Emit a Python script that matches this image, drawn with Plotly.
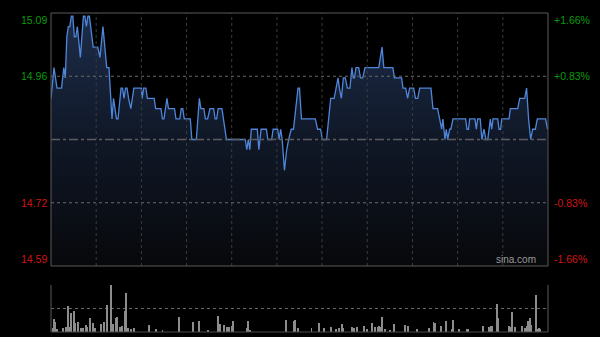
import plotly.graph_objects as go

# ---------------- data ----------------
prev_close = 14.84
pct_max = 1.66  # percent

# price line vertices (minute index from open, price)
minutes = [0, 2, 4, 7, 8.5, 9.5, 10.5, 11.5, 12.5, 13.5, 14.5, 15.5, 16.5, 17.5, 19.5, 21.5, 22.5, 23.5, 24.5, 25.5,
           28, 31, 32.5, 34.5, 37, 38.5, 40.5, 41.5, 43.5, 44.5, 46.5, 47.5, 48.5, 49.5, 50.5, 51.5, 53, 55, 60, 60.5,
           61.5, 63, 64, 68.5, 69.5, 73, 74, 75, 77, 78, 82, 83, 85.5, 86.5, 87.5, 88.5, 92.5, 93.5, 96.5, 98.5,
           99.5, 101.5, 102.5, 104, 105.5, 108, 109, 110, 111, 113.5, 114.5, 116.5, 129, 130, 131, 132, 133, 137, 138, 139.5,
           143, 144, 146.5, 147.5, 150.5, 151.5, 152.5, 153.5, 155, 156.5, 157.8, 159.5, 161, 162.3, 164, 165, 166.3, 175.5, 177, 179,
           180.2, 183, 185.7, 188, 189.3, 190.6, 191.5, 192.8, 194.1, 195.4, 196.8, 198.5, 199.8, 200.7, 201.5, 202.5, 204.3, 205.5, 207, 208.5,
           217.6, 219.8, 221, 227, 228, 232.8, 233.7, 235.5, 236.8, 238.1, 240.8, 242, 243.5, 244.8, 252.3, 253.6, 256.7, 258, 259.4, 260.2,
           261.6, 262.5, 263.4, 264.7, 265.5, 266.9, 275.3, 276.2, 277.2, 278, 281.5, 282.4, 283.3, 285, 286.1, 287.5, 288.8, 290, 291.7, 292.6,
           293.5, 296.6, 297.5, 298.5, 299.3, 304.1, 305, 309.9, 311.2, 314.5, 315.8, 317.1, 318.5, 319.8, 321.6, 322.9, 328.4, 329.7]
prices = [14.92, 14.98, 14.94, 14.94, 14.98, 14.96, 15.04, 15.06, 15.06, 15.08, 15.08, 15.04, 15.04, 15.06, 15.00, 15.08, 15.08, 15.06, 15.08, 15.08,
          15.02, 15.02, 15.00, 15.06, 14.98, 14.98, 14.88, 14.92, 14.88, 14.88, 14.94, 14.94, 14.92, 14.94, 14.94, 14.92, 14.90, 14.94, 14.94, 14.92,
          14.94, 14.94, 14.92, 14.92, 14.90, 14.90, 14.88, 14.88, 14.92, 14.90, 14.90, 14.88, 14.88, 14.90, 14.90, 14.88, 14.88, 14.84, 14.84, 14.92,
          14.90, 14.90, 14.88, 14.88, 14.90, 14.90, 14.88, 14.88, 14.90, 14.90, 14.88, 14.84, 14.84, 14.82, 14.84, 14.82, 14.86, 14.86, 14.82, 14.86,
          14.86, 14.84, 14.84, 14.86, 14.86, 14.84, 14.86, 14.84, 14.78, 14.82, 14.84, 14.86, 14.86, 14.90, 14.94, 14.94, 14.88, 14.88, 14.86, 14.86,
          14.84, 14.84, 14.92, 14.92, 14.94, 14.96, 14.94, 14.92, 14.96, 14.96, 14.94, 14.94, 14.98, 14.96, 14.96, 14.98, 14.98, 14.96, 14.96, 14.98,
          14.98, 15.02, 14.98, 14.98, 14.96, 14.96, 14.94, 14.94, 14.92, 14.94, 14.94, 14.92, 14.92, 14.94, 14.94, 14.90, 14.90, 14.88, 14.86, 14.88,
          14.84, 14.86, 14.84, 14.86, 14.86, 14.88, 14.88, 14.86, 14.86, 14.88, 14.88, 14.86, 14.88, 14.88, 14.84, 14.86, 14.84, 14.84, 14.88, 14.86,
          14.88, 14.88, 14.86, 14.86, 14.88, 14.88, 14.90, 14.90, 14.92, 14.92, 14.94, 14.88, 14.84, 14.86, 14.86, 14.88, 14.88, 14.86]

# volume bars (minute index, relative volume)
vol_minutes = [1, 2, 3, 4, 8, 10, 11, 12, 13, 15, 16, 18, 20, 21, 23, 24, 26, 28, 29, 33, 35, 37, 40, 41, 43, 44, 46, 47, 49, 50,
               51, 53, 55, 65, 70, 74, 85, 94, 98, 104, 111, 112, 115, 117, 118, 120, 121, 130, 131, 132, 156, 161, 162, 164,
               173, 178, 181, 186, 189, 191, 193, 194, 200, 201, 203, 208, 210, 213, 215, 217, 218, 219, 220, 222, 225, 228,
               235, 237, 243, 251, 254, 255, 259, 262, 266, 267, 271, 276, 277, 287, 291, 292, 293, 296, 297, 304, 305, 306,
               308, 313, 315, 316, 317, 318, 319, 322, 323, 324, 325]
volumes = [3.7, 12.7, 10.3, 2.7, 3.7, 4.7, 26, 4.7, 19.3, 21.3, 8.7, 9.7, 3.7, 3.7, 7, 4.7, 13.7, 9.3, 3.7, 7.7, 10.3, 27, 47, 7.7, 14.3, 15.3, 4.7, 6, 21.3, 39.3,
           3.7, 2.7, 3.7, 7, 2.7, 2, 14.7, 10, 11, 2, 16, 8, 7, 4.7, 5.3, 6, 11, 3.7, 11, 2, 12, 11, 12, 3.7,
           3.7, 9.3, 3.7, 4.7, 2.7, 3.7, 8, 3.7, 4.7, 3.7, 4.7, 6, 2.7, 9.3, 5.3, 4.7, 6, 4.7, 14.7, 2.7, 2, 8,
           7, 6, 2.7, 3.7, 10.3, 9.3, 6, 11, 2.7, 12, 2.7, 2.7, 2.7, 6, 4.7, 6, 6, 28, 13.7, 6, 5.3, 20,
           4.7, 6, 3.7, 6, 11, 13.7, 7, 37, 2.7, 3.7, 2.7]

left_labels = ["15.09", "14.96", "14.72", "14.59"]
right_labels = ["+1.66%", "+0.83%", "-0.83%", "-1.66%"]
grid_minutes = [30, 60, 90, 120, 150, 180, 210, 240, 270, 300]
total_minutes = 330

# ---------------- derived levels ----------------
top = prev_close * (1 + pct_max / 100)
bot = prev_close * (1 - pct_max / 100)
mid_up = prev_close * (1 + pct_max / 200)
mid_dn = prev_close * (1 - pct_max / 200)
levels = [top, mid_up, mid_dn, bot]
vmax = max(volumes)

GREEN = "#0a9a0a"
RED = "#d01515"
label_colors = [GREEN, GREEN, RED, RED]
anchors = ["top", "middle", "middle", "bottom"]

fig = go.Figure()

fig.add_trace(go.Scatter(
    x=minutes, y=prices, mode="lines",
    line=dict(color="#4f86da", width=1.3),
    fill="tozeroy",
    fillgradient=dict(type="vertical", start=bot, stop=top,
                      colorscale=[[0, "#07080b"], [0.5, "#101827"], [1, "#1d2d4b"]]),
    hoverinfo="skip", xaxis="x", yaxis="y"))

fig.add_trace(go.Bar(
    x=vol_minutes, y=volumes, width=0.6,
    marker=dict(color="#8c8c8c", line=dict(width=0)),
    hoverinfo="skip", xaxis="x2", yaxis="y2"))

price_dom = [(332 - 266) / 319, 1.0]
vol_dom = [0.0, (332 - 285) / 319]

fig.update_layout(
    width=600, height=337,
    margin=dict(l=51, r=52, t=13, b=5),
    paper_bgcolor="#000000", plot_bgcolor="#000000",
    showlegend=False, bargap=0,
    xaxis=dict(range=[0, total_minutes], domain=[0, 1], anchor="y",
               showticklabels=False, ticks="", showgrid=False,
               zeroline=False, showline=False, fixedrange=True),
    yaxis=dict(range=[bot, top], domain=price_dom, anchor="x",
               showticklabels=False, ticks="", showgrid=False,
               zeroline=False, showline=False, fixedrange=True),
    xaxis2=dict(range=[0, total_minutes], domain=[0, 1], anchor="y2",
                showticklabels=False, ticks="", showgrid=False, zeroline=False, fixedrange=True),
    yaxis2=dict(range=[0, vmax], domain=vol_dom, anchor="x2",
                tickvals=[vmax / 2, vmax], showticklabels=False, ticks="",
                showgrid=True, gridcolor="#6a6a6a", griddash="dot", gridwidth=1,
                zeroline=False, showline=False, fixedrange=True),
)

# grid lines drawn above the filled area
for gm in grid_minutes:
    fig.add_shape(type="line", xref="x", yref="y domain", x0=gm, x1=gm, y0=0, y1=1,
                  line=dict(color="#3c3c3c", width=1, dash="dot"), layer="above")
for lv in (mid_up, mid_dn):
    fig.add_shape(type="line", xref="x domain", yref="y", x0=0, x1=1, y0=lv, y1=lv,
                  line=dict(color="#6a6a6a", width=1, dash="dot"), layer="above")
fig.add_shape(type="line", xref="x domain", yref="y", x0=0, x1=1, y0=prev_close, y1=prev_close,
              line=dict(color="#5c5c5c", width=1.5, dash="dashdot"), layer="above")

# price panel border
fig.add_shape(type="rect", xref="x domain", yref="y domain", x0=0, x1=1, y0=0, y1=1,
              line=dict(color="#5a5a5a", width=1), layer="above")
# volume panel frame: sides and bottom
for x0 in (0, 1):
    fig.add_shape(type="line", xref="x2 domain", yref="y2 domain", x0=x0, x1=x0, y0=0, y1=1,
                  line=dict(color="#5a5a5a", width=1))
fig.add_shape(type="line", xref="x2 domain", yref="y2 domain", x0=0, x1=1, y0=0, y1=0,
              line=dict(color="#4a4a4a", width=1))

for lv, txt, col, anc in zip(levels, left_labels, label_colors, anchors):
    fig.add_annotation(x=-0.006, xref="paper", y=lv, yref="y", text=txt, showarrow=False,
                       xanchor="right", yanchor=anc, font=dict(family="Liberation Sans, Arial", size=10.5, color=col),
                       borderpad=0)
for lv, txt, col, anc in zip(levels, right_labels, label_colors, anchors):
    fig.add_annotation(x=1.0101, xref="paper", y=lv, yref="y", text=txt, showarrow=False,
                       xanchor="left", yanchor=anc, font=dict(family="Liberation Sans, Arial", size=10.5, color=col),
                       borderpad=0)

fig.add_annotation(x=0.978, xref="paper", y=bot, yref="y", text="sina.com", showarrow=False,
                   xanchor="right", yanchor="bottom", font=dict(family="Liberation Sans, Arial", size=10, color="#9a9a9a"),
                   borderpad=0)

fig.write_html("out.html", config={"displayModeBar": False})
